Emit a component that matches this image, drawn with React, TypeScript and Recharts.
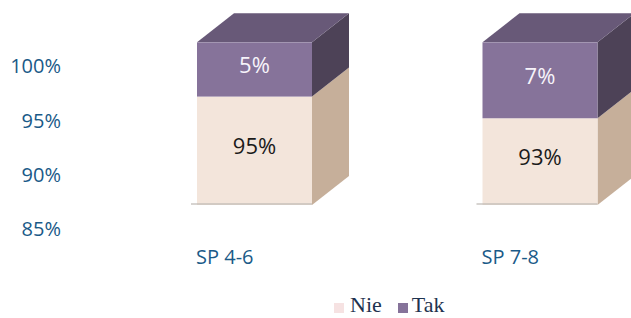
import React from 'react';
import { BarChart, Bar, XAxis, YAxis, Legend, LabelList } from 'recharts';

const categories = ['SP 4-6', 'SP 7-8'];
const nieValues = [95, 93];
const takValues = [5, 7];
const yTicks = [85, 90, 95, 100];

const data = categories.map((name, i) => ({ name, nie: nieValues[i], tak: takValues[i] }));

const CHART_W = 700;
const CHART_H = 318;
const MARGIN = { top: 12, right: 17, bottom: 0, left: 12 };
const LEGEND_H = 26;
const XAXIS_H = 87;
const PLOT_BOTTOM = CHART_H - MARGIN.bottom - LEGEND_H - XAXIS_H;
// 3D depth of the boxes
const DX = 37;
const DY = 29;

const COLORS = {
  nieFront: '#f3e5db',
  nieSide: '#c6af9a',
  nieLegend: '#f6e2e2',
  takFront: '#86739a',
  takTop: '#685978',
  takSide: '#4d4257',
  axis: '#1a5a88',
  legend: '#1f3350'
};

// draws one stacked segment as a box (front, right side, optional top)
const Box3D = (props: any) => {
  const { x, y, width, height, front, side, top, withTop, base } = props;
  const bottom = Math.min(y + height, PLOT_BOTTOM);
  const r = x + width;
  return (
    <g>
      <polygon points={`${r},${y} ${r + DX},${y - DY} ${r + DX},${bottom - DY} ${r},${bottom}`} fill={side} />
      {withTop && (
        <polygon points={`${x},${y} ${x + DX},${y - DY} ${r + DX},${y - DY} ${r},${y}`} fill={top} />
      )}
      <rect x={x} y={y} width={width} height={bottom - y} fill={front} />
      {base && <rect x={x - 6} y={bottom - 2} width={width + 6} height={2} fill="#bdb7b2" opacity={0.6} />}
    </g>
  );
};

const segmentLabel = (color: string) => (p: any) => {
  const vb = p.viewBox || p;
  const { x, y, width, height } = vb;
  const bottom = Math.min(y + height, PLOT_BOTTOM);
  const cy = (y + bottom) / 2;
  return (
    <text x={x + width / 2} y={cy + 3.4} textAnchor="middle" fill={color} fontSize={22} fontFamily="Open Sans">
      {p.value}%
    </text>
  );
};

const YTick = ({ y, payload }: any) => (
  <text x={61} y={y + 31} textAnchor="end" fill={COLORS.axis} fontSize={20} fontFamily="Open Sans">
    {payload.value}%
  </text>
);

const XTick = ({ x, payload }: any) => (
  <text x={x - 30} y={PLOT_BOTTOM + 59} textAnchor="middle" fill={COLORS.axis} fontSize={20} fontFamily="Open Sans">
    {payload.value}
  </text>
);

const LegendContent = ({ payload }: any) => (
  <div style={{ height: LEGEND_H, display: 'flex', alignItems: 'flex-start', paddingLeft: 334, boxSizing: 'border-box' }}>
    {(payload || []).map((entry: any, i: number) => (
      <React.Fragment key={entry.value}>
        <span
          style={{
            display: 'inline-block',
            width: 10,
            height: 10,
            marginTop: 11,
            marginRight: i === 0 ? 6 : 4,
            background: entry.value === 'Nie' ? COLORS.nieLegend : COLORS.takFront
          }}
        />
        <span
          style={{
            fontFamily: '"Liberation Serif", serif',
            fontSize: 22,
            lineHeight: '22px',
            marginTop: 2,
            marginRight: 16,
            color: COLORS.legend
          }}
        >
          {entry.value}
        </span>
      </React.Fragment>
    ))}
  </div>
);

export default function App() {
  return (
    <div style={{ position: 'fixed', left: 0, top: 0, width: 631, height: 318, overflow: 'hidden', background: '#fff' }}>
      <BarChart width={CHART_W} height={CHART_H} data={data} margin={MARGIN}>
        <XAxis dataKey="name" axisLine={false} tickLine={false} height={XAXIS_H} tick={<XTick />} interval={0} />
        <YAxis
          domain={[85, 102.8]}
          ticks={yTicks}
          allowDataOverflow
          axisLine={false}
          tickLine={false}
          width={100}
          tick={<YTick />}
        />
        <Legend
          verticalAlign="bottom"
          align="left"
          wrapperStyle={{ left: 0, width: CHART_W, bottom: 0 }}
          content={<LegendContent />}
        />
        <Bar
          dataKey="nie"
          name="Nie"
          stackId="a"
          barSize={115}
          fill={COLORS.nieLegend}
          isAnimationActive={false}
          shape={(p: any) => <Box3D {...p} front={COLORS.nieFront} side={COLORS.nieSide} base />}
        >
          <LabelList dataKey="nie" content={segmentLabel('#1a1a1a')} />
        </Bar>
        <Bar
          dataKey="tak"
          name="Tak"
          stackId="a"
          barSize={115}
          fill={COLORS.takFront}
          isAnimationActive={false}
          shape={(p: any) => (
            <Box3D {...p} front={COLORS.takFront} side={COLORS.takSide} top={COLORS.takTop} withTop />
          )}
        >
          <LabelList dataKey="tak" content={segmentLabel('#f7f4fa')} />
        </Bar>
      </BarChart>
    </div>
  );
}
